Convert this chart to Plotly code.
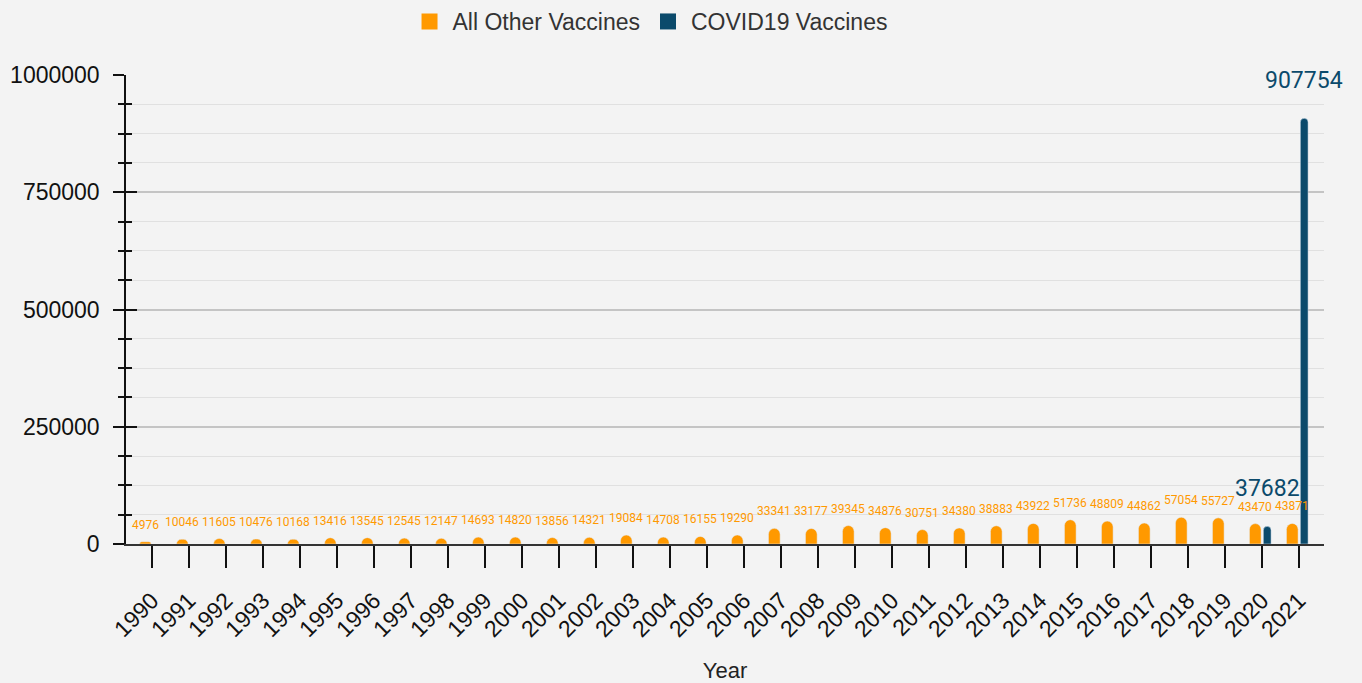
import plotly.graph_objects as go

years = [str(y) for y in range(1990, 2022)]
other_vaccines = [4976, 10046, 11605, 10476, 10168, 13416, 13545, 12545, 12147, 14693,
                  14820, 13856, 14321, 19084, 14708, 16155, 19290, 33341, 33177, 39345,
                  34876, 30751, 34380, 38883, 43922, 51736, 48809, 44862, 57054, 55727,
                  43470, 43871]
covid_years = ["2020", "2021"]
covid_vaccines = [37682, 907754]
y_ticks = [0, 250000, 500000, 750000, 1000000]

ORANGE = "#FF9900"
BLUE = "#0B4A6B"
BG = "#F3F3F3"

o_off, o_w = -0.335, 0.315
c_off, c_w = 0.04, 0.21

fig = go.Figure()
fig.add_trace(go.Bar(x=years, y=other_vaccines, name="All Other Vaccines",
                     marker=dict(color=ORANGE, cornerradius="50%"),
                     offset=o_off, width=o_w, showlegend=False, hoverinfo="x+y"))
fig.add_trace(go.Bar(x=covid_years, y=covid_vaccines, name="COVID19 Vaccines",
                     marker=dict(color=BLUE, cornerradius="50%"),
                     offset=c_off, width=c_w, showlegend=False, hoverinfo="x+y"))
# legend entries
fig.add_trace(go.Scatter(x=[None], y=[None], mode="markers", name="All Other Vaccines",
                         marker=dict(symbol="square", size=16, color=ORANGE)))
fig.add_trace(go.Scatter(x=[None], y=[None], mode="markers", name="COVID19 Vaccines",
                         marker=dict(symbol="square", size=16, color=BLUE)))
# dummy trace on overlay axis (for ticks crossing the y axis line)
fig.add_trace(go.Scatter(x=[None], y=[None], xaxis="x", yaxis="y2",
                         showlegend=False, hoverinfo="skip"))

annotations = []
for yr, v in zip(years, other_vaccines):
    i = years.index(yr)
    annotations.append(dict(x=i + o_off + o_w / 2, y=v, xref="x", yref="y",
                            text=str(v), showarrow=False, yshift=17,
                            font=dict(family="Roboto", size=12, color=ORANGE)))
for yr, v in zip(covid_years, covid_vaccines):
    i = years.index(yr)
    annotations.append(dict(x=i + c_off + c_w / 2, y=v, xref="x", yref="y",
                            text=str(v), showarrow=False, yshift=38,
                            font=dict(family="Roboto", size=23, color=BLUE)))

y_common = dict(range=[0, 1000000], tickvals=y_ticks, fixedrange=True, automargin=False)

fig.update_layout(
    width=1362, height=683,
    paper_bgcolor=BG, plot_bgcolor=BG,
    margin=dict(l=126, r=38, t=75, b=139),
    barmode="overlay",
    font=dict(family="Liberation Sans, Arial", color="#222"),
    showlegend=True,
    legend=dict(orientation="h", x=0.437, xanchor="center", y=1.0, yref="container",
                yanchor="top", font=dict(size=23, color="#333"), bgcolor="rgba(0,0,0,0)",
                itemwidth=36),
    xaxis=dict(type="category", categoryorder="array", categoryarray=years,
               range=[-0.7, 31.68], showline=True, linecolor="#333", linewidth=2,
               ticks="outside", ticklen=22, tickwidth=2, tickcolor="#111",
               tickangle=-45, tickfont=dict(size=23, color="#111"),
               ticklabelstandoff=10, showgrid=False, fixedrange=True, automargin=False,
               title=dict(text="Year", font=dict(size=22, color="#222"), standoff=24)),
    yaxis=dict(**y_common, tickformat="d",
               showline=True, linecolor="#111", linewidth=1.5,
               ticks="outside", ticklen=11, tickwidth=1.5, tickcolor="#111",
               tickfont=dict(size=23, color="#111"), ticklabelstandoff=9,
               showgrid=True, gridcolor="#C4C4C4", gridwidth=1.5, zeroline=False,
               minor=dict(dtick=62500, ticks="outside", ticklen=6, tickwidth=1.5,
                          tickcolor="#111", showgrid=True, gridcolor="#E0E0E0", gridwidth=1)),
    yaxis2=dict(**y_common, overlaying="y", anchor="x", side="left", showline=False,
                ticks="inside", ticklen=11, tickwidth=1.5, tickcolor="#111",
                showticklabels=False, showgrid=False, zeroline=False,
                minor=dict(dtick=62500, ticks="inside", ticklen=6, tickwidth=1.5,
                           tickcolor="#111", showgrid=False)),
    annotations=annotations,
)

fig.write_html("out.html", config={"displayModeBar": False},
               post_script="document.body.style.margin='0';")
